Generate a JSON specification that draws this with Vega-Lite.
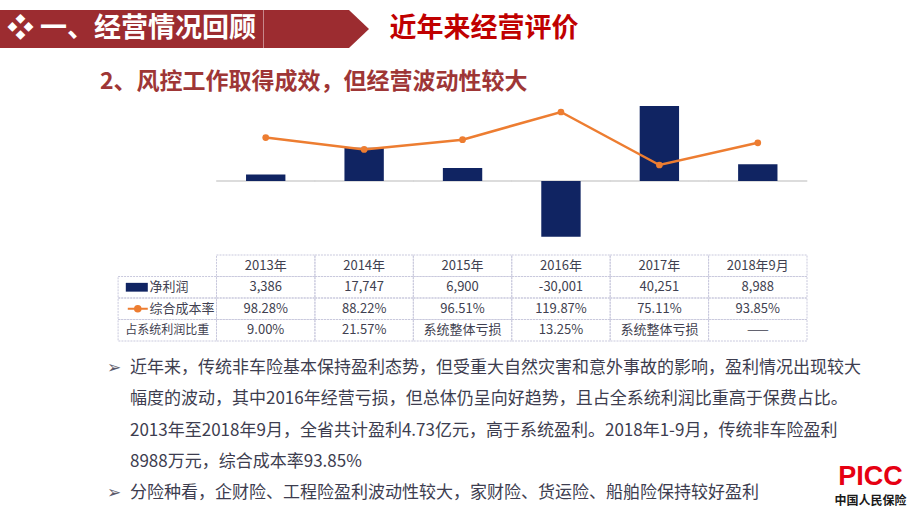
{
  "$schema": "https://vega.github.io/schema/vega-lite/v6.json",
  "background": "white",
  "padding": {"left": 0, "top": 10, "right": 0, "bottom": 0},
  "config": {
    "view": {"stroke": null},
    "font": "Noto Sans CJK SC",
    "text": {"font": "Noto Sans CJK SC"},
    "title": {"font": "Noto Sans CJK SC"}
  },
  "datasets": {
    "chart": [
      {"year": "2013年", "profit": 3386, "ratio": 0.9828},
      {"year": "2014年", "profit": 17747, "ratio": 0.8822},
      {"year": "2015年", "profit": 6900, "ratio": 0.9651},
      {"year": "2016年", "profit": -30001, "ratio": 1.1987},
      {"year": "2017年", "profit": 40251, "ratio": 0.7511},
      {"year": "2018年9月", "profit": 8988, "ratio": 0.9385}
    ],
    "table": [
      {"row": "年份", "col": "2013年", "text": "2013年"},
      {"row": "年份", "col": "2014年", "text": "2014年"},
      {"row": "年份", "col": "2015年", "text": "2015年"},
      {"row": "年份", "col": "2016年", "text": "2016年"},
      {"row": "年份", "col": "2017年", "text": "2017年"},
      {"row": "年份", "col": "2018年9月", "text": "2018年9月"},
      {"row": "净利润", "col": "指标", "text": "净利润"},
      {"row": "净利润", "col": "2013年", "text": "3,386"},
      {"row": "净利润", "col": "2014年", "text": "17,747"},
      {"row": "净利润", "col": "2015年", "text": "6,900"},
      {"row": "净利润", "col": "2016年", "text": "-30,001"},
      {"row": "净利润", "col": "2017年", "text": "40,251"},
      {"row": "净利润", "col": "2018年9月", "text": "8,988"},
      {"row": "综合成本率", "col": "指标", "text": "综合成本率"},
      {"row": "综合成本率", "col": "2013年", "text": "98.28%"},
      {"row": "综合成本率", "col": "2014年", "text": "88.22%"},
      {"row": "综合成本率", "col": "2015年", "text": "96.51%"},
      {"row": "综合成本率", "col": "2016年", "text": "119.87%"},
      {"row": "综合成本率", "col": "2017年", "text": "75.11%"},
      {"row": "综合成本率", "col": "2018年9月", "text": "93.85%"},
      {"row": "占系统利润比重", "col": "指标", "text": "占系统利润比重"},
      {"row": "占系统利润比重", "col": "2013年", "text": "9.00%"},
      {"row": "占系统利润比重", "col": "2014年", "text": "21.57%"},
      {"row": "占系统利润比重", "col": "2015年", "text": "系统整体亏损"},
      {"row": "占系统利润比重", "col": "2016年", "text": "13.25%"},
      {"row": "占系统利润比重", "col": "2017年", "text": "系统整体亏损"},
      {"row": "占系统利润比重", "col": "2018年9月", "text": "——"}
    ],
    "para": [
      {"line": 1, "bullet": "➢", "text": "近年来，传统非车险基本保持盈利态势，但受重大自然灾害和意外事故的影响，盈利情况出现较大"},
      {"line": 2, "bullet": "", "text": "幅度的波动，其中2016年经营亏损，但总体仍呈向好趋势，且占全系统利润比重高于保费占比。"},
      {"line": 3, "bullet": "", "text": "2013年至2018年9月，全省共计盈利4.73亿元，高于系统盈利。2018年1-9月，传统非车险盈利"},
      {"line": 4, "bullet": "", "text": "8988万元，综合成本率93.85%"},
      {"line": 5, "bullet": "➢", "text": "分险种看，企财险、工程险盈利波动性较大，家财险、货运险、船舶险保持较好盈利"}
    ],
    "logo": [
      {"part": "PICC"},
      {"part": "中国人民保险"}
    ]
  },
  "spacing": 10,
  "vconcat": [
    {
      "spacing": 23,
      "vconcat": [
        {
          "spacing": 20,
          "hconcat": [
            {
              "spacing": 0,
              "hconcat": [
                {
                  "width": 263,
                  "height": 38,
                  "view": {"fill": "#9c2c30", "stroke": null},
                  "data": {"values": [{"section": "❖ 一、经营情况回顾"}]},
                  "mark": {"type": "text", "color": "white", "fontSize": 27, "fontWeight": "bold", "align": "center", "baseline": "middle"},
                  "encoding": {"text": {"field": "section", "type": "nominal"}}
                },
                {
                  "width": 104,
                  "height": 38,
                  "data": {"values": [{"section": "一、经营情况回顾"}]},
                  "mark": {"type": "point", "filled": true, "opacity": 1, "color": "#9c2c30", "strokeWidth": 0, "size": 10816, "shape": "M -1.03 -0.365 L 0.615 -0.365 L 1 0 L 0.615 0.365 L -1.03 0.365 Z"},
                  "encoding": {}
                }
              ]
            },
            {
              "width": 188,
              "height": 38,
              "data": {"values": [{"heading": "近年来经营评价"}]},
              "mark": {"type": "text", "color": "#c00000", "fontSize": 27, "fontWeight": "bold", "align": "center", "baseline": "middle"},
              "encoding": {"text": {"field": "heading", "type": "nominal"}}
            }
          ]
        },
        {
          "spacing": 6,
          "vconcat": [
            {
              "width": 807,
              "height": 150,
              "title": {"text": "2、风控工作取得成效，但经营波动性较大", "anchor": "start", "frame": "group", "dx": 100, "offset": 4, "fontSize": 23, "fontWeight": "bold", "color": "#9e3636"},
              "data": {"name": "chart"},
              "encoding": {
                "x": {"field": "year", "type": "nominal", "sort": null, "axis": null,
                  "scale": {"type": "band", "domain": ["指标", "2013年", "2014年", "2015年", "2016年", "2017年", "2018年9月"], "paddingInner": 0, "paddingOuter": 0.6, "align": 1}}
              },
              "layer": [
                {
                  "mark": {"type": "tick", "orient": "horizontal", "size": 99, "thickness": 1.5, "color": "#d0d0d0", "opacity": 1},
                  "encoding": {"y": {"datum": 0, "type": "quantitative", "axis": null, "scale": {"domain": [-36000, 44500], "nice": false, "zero": false}}}
                },
                {
                  "mark": {"type": "bar", "color": "#102462", "width": {"band": 0.4}},
                  "encoding": {"y": {"field": "profit", "type": "quantitative", "axis": null, "scale": {"domain": [-36000, 44500], "nice": false, "zero": false}}}
                },
                {
                  "mark": {"type": "line", "color": "#ed7d31", "strokeWidth": 2.5, "point": {"filled": true, "size": 45, "color": "#ed7d31"}},
                  "encoding": {"y": {"field": "ratio", "type": "quantitative", "axis": null, "scale": {"domain": [0.05, 1.317], "nice": false, "zero": false}}}
                }
              ],
              "resolve": {"scale": {"y": "independent"}}
            },
            {
              "width": 807,
              "height": 86,
              "data": {"name": "table"},
              "encoding": {
                "x": {"field": "col", "type": "nominal", "axis": null,
                  "scale": {"type": "band", "domain": ["指标", "2013年", "2014年", "2015年", "2016年", "2017年", "2018年9月"], "paddingInner": 0, "paddingOuter": 0.6, "align": 1}},
                "y": {"field": "row", "type": "nominal", "axis": null,
                  "scale": {"type": "band", "domain": ["年份", "净利润", "综合成本率", "占系统利润比重"], "paddingInner": 0, "paddingOuter": 0}}
              },
              "layer": [
                {
                  "mark": {"type": "rect", "fill": "transparent", "stroke": "#c9c9dd", "strokeWidth": 1, "strokeDash": [2, 1]}
                },
                {
                  "transform": [{"filter": "datum.col !== '指标'"}],
                  "mark": {"type": "text", "fontSize": 13, "color": "#3f3f50", "align": "center", "baseline": "middle"},
                  "encoding": {"text": {"field": "text", "type": "nominal"}}
                },
                {
                  "transform": [{"filter": "datum.col === '指标' && datum.row === '占系统利润比重'"}],
                  "mark": {"type": "text", "fontSize": 12, "color": "#3f3f50", "align": "center", "baseline": "middle"},
                  "encoding": {"text": {"field": "text", "type": "nominal"}}
                },
                {
                  "transform": [{"filter": "datum.col === '指标' && datum.row !== '占系统利润比重'"}],
                  "mark": {"type": "text", "fontSize": 13, "color": "#3f3f50", "align": "left", "baseline": "middle"},
                  "encoding": {
                    "x": {"field": "col", "type": "nominal", "bandPosition": 0.32},
                    "text": {"field": "text", "type": "nominal"}
                  }
                },
                {
                  "transform": [{"filter": "datum.col === '指标' && datum.row === '净利润'"}],
                  "mark": {"type": "point", "filled": true, "opacity": 1, "color": "#102462", "strokeWidth": 0, "size": 484, "shape": "M -1 -0.4 L 1 -0.4 L 1 0.4 L -1 0.4 Z"},
                  "encoding": {"x": {"field": "col", "type": "nominal", "bandPosition": 0.19}}
                },
                {
                  "transform": [{"filter": "datum.col === '指标' && datum.row === '综合成本率'"}],
                  "mark": {"type": "point", "filled": true, "opacity": 1, "fill": "#ed7d31", "stroke": "#ed7d31", "strokeWidth": 2, "size": 400, "shape": "M -1 0 L 1 0 M 0.28 0 A 0.28 0.28 0 1 1 -0.28 0 A 0.28 0.28 0 1 1 0.28 0 Z"},
                  "encoding": {"x": {"field": "col", "type": "nominal", "bandPosition": 0.2}}
                }
              ]
            }
          ]
        }
      ]
    },
    {
      "spacing": 574,
      "bounds": "flush",
      "hconcat": [
        {
          "width": 260,
          "height": 157,
          "data": {"name": "para"},
          "encoding": {
            "y": {"field": "line", "type": "ordinal", "axis": null, "scale": {"domain": [1, 2, 3, 4, 5], "paddingInner": 0, "paddingOuter": 0}}
          },
          "layer": [
            {
              "mark": {"type": "text", "fontSize": 17, "color": "#3d3d4f", "align": "left", "baseline": "middle"},
              "encoding": {"text": {"field": "text", "type": "nominal"}}
            },
            {
              "transform": [{"filter": "datum.bullet !== ''"}],
              "mark": {"type": "text", "fontSize": 17, "color": "#5a5a6a", "align": "right", "baseline": "middle", "dx": -9},
              "encoding": {"text": {"field": "bullet", "type": "nominal"}}
            }
          ]
        },
        {
          "width": 73,
          "height": 157,
          "data": {"name": "logo"},
          "encoding": {
            "y": {"datum": 5, "type": "ordinal", "axis": null, "scale": {"domain": [1, 2, 3, 4, 5], "paddingInner": 0, "paddingOuter": 0}}
          },
          "layer": [
            {
              "transform": [{"filter": "datum.part === 'PICC'"}],
              "mark": {"type": "text", "font": "Liberation Sans", "fontSize": 27, "lineHeight": 31, "fontWeight": "bold", "color": "#e60012", "align": "center", "baseline": "line-bottom"},
              "encoding": {"text": {"field": "part", "type": "nominal"}}
            },
            {
              "transform": [{"filter": "datum.part !== 'PICC'"}],
              "mark": {"type": "text", "fontSize": 12, "lineHeight": 18, "fontWeight": "bold", "color": "#1a1a1a", "align": "center", "baseline": "line-top"},
              "encoding": {"text": {"field": "part", "type": "nominal"}}
            }
          ]
        }
      ]
    }
  ]
}
